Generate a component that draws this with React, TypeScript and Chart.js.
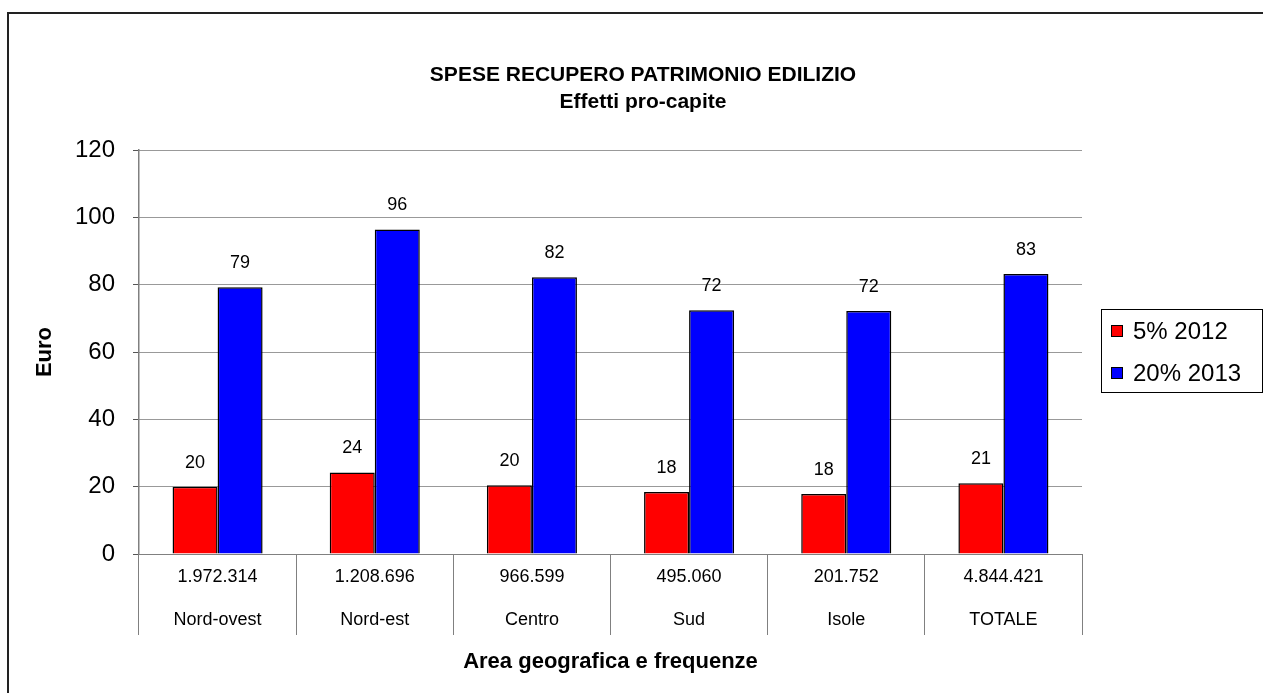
import React, { useEffect, useRef } from "react";
import { Chart, registerables } from "chart.js";

Chart.register(...registerables);

const categories = ["Nord-ovest", "Nord-est", "Centro", "Sud", "Isole", "TOTALE"];
const frequencies = ["1.972.314", "1.208.696", "966.599", "495.060", "201.752", "4.844.421"];
const series2012 = [20.0, 24.2, 20.4, 18.4, 17.8, 21.0];
const series2013 = [79.2, 96.4, 82.2, 72.4, 72.2, 83.2];
const seriesLabels = ["5% 2012", "20% 2013"];
const seriesColors = ["#FF0000", "#0000FF"];
const titleLines = ["SPESE RECUPERO PATRIMONIO EDILIZIO", "Effetti pro-capite"];
const yTitle = "Euro";
const xTitle = "Area geografica e frequenze";

const FONT = "Arial, 'Liberation Sans', sans-serif";

const framePlugin = {
  id: "frame",
  beforeDraw(chart: any) {
    const ctx = chart.ctx;
    ctx.save();
    ctx.fillStyle = "#ffffff";
    ctx.fillRect(0, 0, chart.width, chart.height);
    ctx.strokeStyle = "#222222";
    ctx.lineWidth = 2;
    ctx.strokeRect(8, 13, 1400, 1000);
    ctx.restore();
  },
  afterDraw(chart: any) {
    const ctx = chart.ctx;
    ctx.save();
    // title
    ctx.fillStyle = "#000";
    ctx.textAlign = "center";
    ctx.textBaseline = "middle";
    ctx.font = `bold 21px ${FONT}`;
    ctx.fillText(titleLines[0], 643, 75);
    ctx.fillText(titleLines[1], 643, 102);
    // legend
    ctx.strokeStyle = "#000";
    ctx.lineWidth = 1;
    ctx.strokeRect(1101.5, 309.5, 161, 83);
    const rows = [331, 373];
    chart.data.datasets.forEach((ds: any, i: number) => {
      const y = rows[i];
      ctx.fillStyle = ds.backgroundColor;
      ctx.fillRect(1111, y - 6, 12, 12);
      ctx.strokeStyle = "#000";
      ctx.strokeRect(1111.5, y - 5.5, 11, 11);
      ctx.fillStyle = "#000";
      ctx.textAlign = "left";
      ctx.textBaseline = "middle";
      ctx.font = `24px ${FONT}`;
      ctx.fillText(ds.label, 1133, y + 1);
    });
    ctx.restore();
  },
  afterDatasetsDraw(chart: any) {
    const ctx = chart.ctx;
    ctx.save();
    ctx.fillStyle = "#000";
    ctx.textAlign = "center";
    ctx.textBaseline = "middle";
    ctx.font = `18px ${FONT}`;
    chart.data.datasets.forEach((ds: any, di: number) => {
      const meta = chart.getDatasetMeta(di);
      meta.data.forEach((el: any, i: number) => {
        ctx.fillText(String(Math.round(ds.data[i])), el.x, el.y - 24);
      });
    });
    ctx.restore();
  },
};

export default function App() {
  const ref = useRef<HTMLCanvasElement>(null);
  useEffect(() => {
    if (!ref.current) return;
    const chart = new Chart(ref.current, {
      type: "bar",
      data: {
        labels: categories.map((c, i) => [frequencies[i], c]),
        datasets: [
          {
            label: seriesLabels[0],
            data: series2012,
            backgroundColor: seriesColors[0],
            borderColor: "#000",
            borderWidth: 1.5,
            categoryPercentage: 0.573,
            barPercentage: 1,
          },
          {
            label: seriesLabels[1],
            data: series2013,
            backgroundColor: seriesColors[1],
            borderColor: "#000",
            borderWidth: 1.5,
            categoryPercentage: 0.573,
            barPercentage: 1,
          },
        ],
      },
      options: {
        responsive: false,
        animation: false,
        devicePixelRatio: 1,
        layout: { padding: { top: 150, right: 181, left: 0, bottom: 0 } },
        plugins: {
          legend: { display: false },
          title: { display: false },
          tooltip: { enabled: false },
        },
        scales: {
          x: {
            afterFit(scale: any) {
              scale.height = 139;
            },
            grid: {
              offset: true,
              drawOnChartArea: false,
              drawTicks: true,
              tickLength: 81,
              color: "#808080",
              tickColor: "#808080",
            },
            border: { display: true, color: "#808080", width: 1 },
            ticks: {
              autoSkip: false,
              maxRotation: 0,
              minRotation: 0,
              padding: -79.5,
              color: "#000",
              font: { family: FONT, size: 18, lineHeight: "43px" },
            },
            title: {
              display: true,
              text: xTitle,
              color: "#000",
              font: { family: FONT, size: 22, weight: "bold", lineHeight: 1.2 },
              padding: { top: 17.8, bottom: 17.8 },
            },
          },
          y: {
            min: 0,
            max: 120,
            afterFit(scale: any) {
              scale.width = 139;
            },
            grid: {
              color: "#333333",
              borderDash: [1, 1],
              drawTicks: true,
              tickLength: 6,
              tickColor: "#555555",
              tickBorderDash: [],
            } as any,
            border: { display: true, color: "#808080", width: 1.5, dash: [1, 1] },
            ticks: {
              stepSize: 20,
              padding: 18,
              color: "#000",
              font: { family: FONT, size: 24 },
            },
            title: {
              display: true,
              text: yTitle,
              color: "#000",
              font: { family: FONT, size: 22, weight: "bold", lineHeight: 1.2 },
              padding: { top: 31.8, bottom: 0 },
            },
          },
        },
      },
      plugins: [framePlugin],
    } as any);
    return () => chart.destroy();
  }, []);
  return (
    <div style={{ position: "fixed", left: 0, top: 0, width: 1263, height: 693 }}>
      <canvas ref={ref} width={1263} height={693} style={{ width: 1263, height: 693, display: "block" }} />
    </div>
  );
}
